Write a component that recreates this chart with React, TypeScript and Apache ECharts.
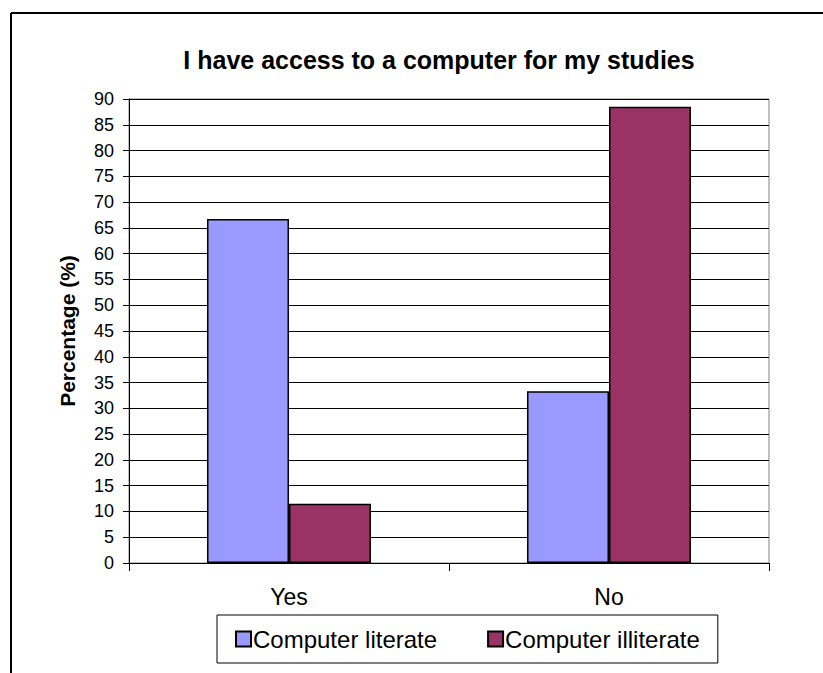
import React, { useEffect, useRef } from "react";
import * as echarts from "echarts";

// Survey answers, percent of each group
const categories = ["Yes", "No"];
const literateValues = [66.7, 33.3];
const illiterateValues = [11.5, 88.5];
const seriesNames = ["Computer literate", "Computer illiterate"];

const FONT = "'Liberation Sans', Arial, Helvetica, sans-serif";

export default function App() {
  const ref = useRef<HTMLDivElement>(null);

  useEffect(() => {
    if (!ref.current) return;
    const chart = echarts.init(ref.current, null, { renderer: "svg" });
    chart.setOption({
      animation: false,
      backgroundColor: "#ffffff",
      title: {
        text: "I have access to a computer for my studies",
        left: 434,
        top: 42,
        textAlign: "center",
        textStyle: { fontFamily: FONT, fontSize: 25, fontWeight: "bold", color: "#000" },
      },
      graphic: [
        {
          type: "line",
          shape: { x1: 11, y1: 13, x2: 823, y2: 13 },
          style: { stroke: "#000", lineWidth: 2 },
        },
        {
          type: "line",
          shape: { x1: 11, y1: 13, x2: 11, y2: 673 },
          style: { stroke: "#000", lineWidth: 2 },
        },
      ],
      grid: {
        left: 129,
        top: 99,
        right: 54,
        bottom: 110,
        show: true,
        borderColor: "#808080",
        borderWidth: 1,
        containLabel: false,
      },
      legend: {
        data: seriesNames,
        left: 217,
        top: 615,
        orient: "horizontal",
        icon: "rect",
        itemWidth: 15,
        itemHeight: 15,
        itemGap: 50,
        padding: [12, 18, 12, 18],
        borderColor: "#000",
        borderWidth: 1,
        textStyle: { fontFamily: FONT, fontSize: 24, color: "#000", padding: [0, 0, 0, -3] },
      },
      xAxis: {
        type: "category",
        data: categories,
        axisLine: { show: true, lineStyle: { color: "#000", width: 1 } },
        axisTick: { show: true, length: 8, lineStyle: { color: "#000" } },
        axisLabel: { fontFamily: FONT, fontSize: 23, color: "#000", margin: 22 },
        splitLine: { show: false },
      },
      yAxis: {
        type: "value",
        min: 0,
        max: 90,
        interval: 5,
        name: "Percentage (%)",
        nameLocation: "middle",
        nameGap: 51,
        nameRotate: 90,
        nameTextStyle: { fontFamily: FONT, fontSize: 21, fontWeight: "bold", color: "#000" },
        axisLine: { show: true, lineStyle: { color: "#000", width: 1 } },
        axisTick: { show: true, length: 6, lineStyle: { color: "#000" } },
        axisLabel: { fontFamily: FONT, fontSize: 18, color: "#000", margin: 15 },
        splitLine: { show: true, lineStyle: { color: "#000", width: 1 } },
      },
      series: [
        {
          name: seriesNames[0],
          type: "bar",
          data: literateValues,
          barGap: "0%",
          barCategoryGap: "48.75%",
          itemStyle: { color: "#9999FF", borderColor: "#000", borderWidth: 1.5 },
        },
        {
          name: seriesNames[1],
          type: "bar",
          data: illiterateValues,
          barGap: "0%",
          barCategoryGap: "48.75%",
          itemStyle: { color: "#993366", borderColor: "#000", borderWidth: 1.5 },
        },
      ],
    });
    return () => chart.dispose();
  }, []);

  return (
    <div
      ref={ref}
      style={{ position: "absolute", left: 0, top: 0, width: 823, height: 673 }}
    />
  );
}
